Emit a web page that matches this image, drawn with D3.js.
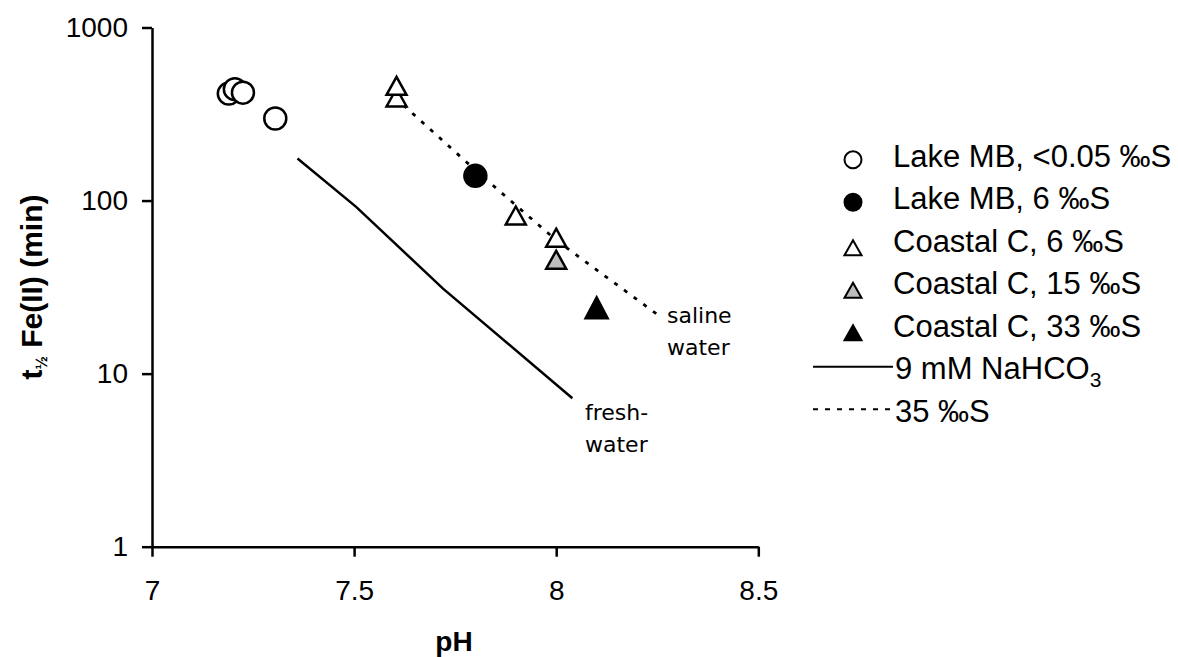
<!DOCTYPE html>
<html>
<head>
<meta charset="utf-8">
<script src="https://cdn.jsdelivr.net/npm/d3@7"></script>
<style>
  body { margin: 0; background: #fff; }
  svg { display: block; }
  .axis text { font-family: "Liberation Sans", Arial, sans-serif; font-size: 28px; fill: #000; }
  .axis path, .axis line { stroke: #000; stroke-width: 2.5px; }
</style>
</head>
<body>
<svg id="chart" width="1178" height="657"></svg>
<script>
// pH / half-life (min)
var lakeFresh = [[7.19, 415], [7.205, 440], [7.225, 420], [7.305, 298]];
var lakeSaline = [[7.8, 139]];
var coastal6 = [[7.605, 460], [7.605, 394], [7.9, 82], [8.0, 61]];
var coastal15 = [[8.0, 45.5]];
var coastal33 = [[8.1, 24]];
var freshLine = [[7.36, 175], [7.505, 92], [7.72, 31], [8.04, 7.2]];
var salineLine = [[7.6, 396], [7.8, 150], [8.0, 59], [8.25, 22]];

var xTicks = [7, 7.5, 8, 8.5];
var yTicks = [1, 10, 100, 1000];

var legendItems = [
  {label: "Lake MB, <0.05 \u2030S", kind: "circle", fill: "#fff"},
  {label: "Lake MB, 6 \u2030S", kind: "circle", fill: "#000"},
  {label: "Coastal C, 6 \u2030S", kind: "tri", fill: "#fff"},
  {label: "Coastal C, 15 \u2030S", kind: "tri", fill: "#bdbdbd"},
  {label: "Coastal C, 33 \u2030S", kind: "tri", fill: "#000"},
  {label: "9 mM NaHCO", sub: "3", kind: "line", dash: null},
  {label: "35 \u2030S", kind: "line", dash: "5,7"}
];

var svg = d3.select("#chart");

var x = d3.scaleLinear().domain([7, 8.5]).range([152, 758.3]);
var y = d3.scaleLog().domain([1, 1000]).range([546.7, 27.5]);

// triangle centred on its bounding box
function triPath(w, h) {
  return "M0," + (-h / 2) + "L" + (w / 2) + "," + (h / 2) + "L" + (-w / 2) + "," + (h / 2) + "Z";
}

svg.append("g")
    .attr("class", "axis")
    .attr("transform", "translate(0," + y(1) + ")")
    .call(d3.axisBottom(x).tickValues(xTicks).tickSize(10).tickSizeOuter(0).tickPadding(23)
      .tickFormat(function(d) { return d; }));

svg.append("g")
    .attr("class", "axis")
    .attr("transform", "translate(" + x(7) + ",0)")
    .call(d3.axisLeft(y).tickValues(yTicks).tickSize(10).tickSizeOuter(0).tickPadding(14)
      .tickFormat(d3.format("d")));

// lines
var line = d3.line()
    .x(function(d) { return x(d[0]); })
    .y(function(d) { return y(d[1]); });

svg.append("path")
    .datum(freshLine)
    .attr("d", line)
    .attr("fill", "none")
    .attr("stroke", "#000")
    .attr("stroke-width", 2.5);

svg.append("path")
    .datum(salineLine)
    .attr("d", line)
    .attr("fill", "none")
    .attr("stroke", "#000")
    .attr("stroke-width", 2.8)
    .attr("stroke-dasharray", "4,8");

// markers
function circles(data, fill) {
  svg.selectAll(null)
      .data(data)
    .enter().append("circle")
      .attr("cx", function(d) { return x(d[0]); })
      .attr("cy", function(d) { return y(d[1]); })
      .attr("r", 11)
      .attr("fill", fill)
      .attr("stroke", "#000")
      .attr("stroke-width", 2.5);
}
function triangles(data, fill, w, h) {
  svg.selectAll(null)
      .data(data)
    .enter().append("path")
      .attr("d", triPath(w, h))
      .attr("transform", function(d) { return "translate(" + x(d[0]) + "," + y(d[1]) + ")"; })
      .attr("fill", fill)
      .attr("stroke", "#000")
      .attr("stroke-width", 2.5)
      .attr("stroke-linejoin", "miter");
}

circles(lakeFresh, "#fff");
circles(lakeSaline, "#000");
triangles(coastal6.slice(1), "#fff", 20, 18);
triangles(coastal6.slice(0, 1), "#fff", 20, 18);
triangles(coastal15, "#bdbdbd", 20, 18);
triangles(coastal33, "#000", 22, 21);

// annotations
var note = svg.append("g")
    .style("font-family", "'DejaVu Sans', Verdana, sans-serif")
    .style("font-size", "22px");
note.append("text").attr("x", 667).attr("y", 323).text("saline");
note.append("text").attr("x", 667).attr("y", 355).text("water");
note.append("text").attr("x", 585).attr("y", 420).text("fresh-");
note.append("text").attr("x", 585).attr("y", 452).text("water");

// axis titles
svg.append("text")
    .attr("x", 454)
    .attr("y", 651)
    .attr("text-anchor", "middle")
    .style("font-family", "'Liberation Sans', Arial, sans-serif")
    .style("font-size", "28px")
    .style("font-weight", "bold")
    .text("pH");

var yTitle = svg.append("text")
    .attr("transform", "translate(42,287) rotate(-90)")
    .attr("text-anchor", "middle")
    .style("font-family", "'Liberation Sans', Arial, sans-serif")
    .style("font-size", "30px")
    .style("font-weight", "bold");
yTitle.append("tspan").text("t");
yTitle.append("tspan").attr("font-size", "16px").attr("dy", 5).text("\u00bd");
yTitle.append("tspan").attr("dy", -5).text(" Fe(II) (min)");

// legend
var legend = svg.append("g")
    .style("font-family", "'Liberation Sans', Arial, sans-serif")
    .style("font-size", "31px");

legendItems.forEach(function(item, i) {
  var by = 166.7 + i * 42.5;
  if (item.kind === "circle") {
    legend.append("circle")
        .attr("cx", 853).attr("cy", by - 7).attr("r", 8.5)
        .attr("fill", item.fill).attr("stroke", "#000").attr("stroke-width", 2);
  } else if (item.kind === "tri") {
    legend.append("path")
        .attr("d", triPath(17, 15))
        .attr("transform", "translate(853," + (by - 4) + ")")
        .attr("fill", item.fill).attr("stroke", "#000").attr("stroke-width", 2);
  } else {
    legend.append("line")
        .attr("x1", 813).attr("x2", 893)
        .attr("y1", by - 12.5).attr("y2", by - 12.5)
        .attr("stroke", "#000").attr("stroke-width", 2)
        .attr("stroke-dasharray", item.dash);
  }
  var t = legend.append("text").attr("x", item.kind === "line" ? 895 : 893).attr("y", by);
  t.append("tspan").text(item.label);
  if (item.sub) t.append("tspan").attr("font-size", "21px").attr("dy", 8).text(item.sub);
});
</script>
</body>
</html>
